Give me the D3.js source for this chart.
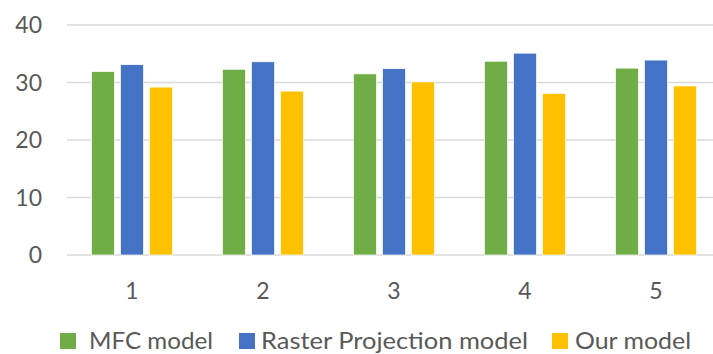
<!DOCTYPE html>
<html><head><meta charset="utf-8">
<script src="https://cdn.jsdelivr.net/npm/d3@7"></script>
<style>body{margin:0;background:#fff;overflow:hidden}</style>
</head><body>
<svg id="c" width="713" height="354"></svg>
<script>
const categories = ["1","2","3","4","5"];
const seriesNames = ["MFC model","Raster Projection model","Our model"];
const mfc = [31.9, 32.3, 31.5, 33.7, 32.5];
const raster = [33.1, 33.6, 32.4, 35.1, 33.9];
const ours = [29.2, 28.5, 30.1, 28.1, 29.4];
const yTicks = [0,10,20,30,40];
const colors = ["#70AD47","#4472C4","#FFC000"];
const seriesValues = [mfc, raster, ours];

const svg = d3.select("#c");
const font = "Lato, 'Open Sans', sans-serif";
const textColor = "#595959";
const groupW = 81;
const x0 = d3.scaleBand().domain(categories).range([66.5, 721.5]).paddingInner(0).paddingOuter(0);
const x1 = d3.scaleBand().domain(seriesNames).range([0, groupW]).paddingInner(0.207);
const y = d3.scaleLinear().domain([0,40]).range([255, 25]);

// gridlines
svg.append("g").selectAll("line").data(yTicks).join("line")
  .attr("x1", 67).attr("x2", 713)
  .attr("y1", d=>y(d)).attr("y2", d=>y(d))
  .attr("stroke", "#d9d9d9").attr("stroke-width", 1.5);

// y labels
svg.append("g").selectAll("text").data(yTicks).join("text")
  .attr("x", 42).attr("y", d=>y(d)).attr("dy","0.36em")
  .attr("text-anchor","end").attr("font-family",font).attr("font-size",23)
  .attr("fill",textColor).text(d=>d);

// bars
const groups = svg.append("g").selectAll("g").data(categories).join("g")
  .attr("transform", c => `translate(${x0(c) + (x0.bandwidth()-groupW)/2},0)`);
groups.selectAll("rect").data((c,i)=>seriesNames.map((s,j)=>({s, v:seriesValues[j][i], j})))
  .join("rect")
  .attr("x", d=>x1(d.s)).attr("width", x1.bandwidth())
  .attr("y", d=>y(d.v)).attr("height", d=>y(0)-y(d.v))
  .attr("fill", d=>colors[d.j]).attr("stroke","#fff").attr("stroke-width",0.7);

// x labels
svg.append("g").selectAll("text").data(categories).join("text")
  .attr("x", c=>x0(c)+x0.bandwidth()/2).attr("y", 299)
  .attr("text-anchor","middle").attr("font-family",font).attr("font-size",23)
  .attr("fill",textColor).text(d=>d);

// legend
const legX = [60, 239, 552];
const legLen = [124, 267, 116];
const leg = svg.append("g").selectAll("g").data(seriesNames).join("g")
  .attr("transform",(d,i)=>`translate(${legX[i]},333)`);
leg.append("rect").attr("x",0).attr("y",0).attr("width",16).attr("height",16)
  .attr("fill",(d,i)=>colors[i]);
leg.append("text").attr("x",(d,i)=>[29,22,23][i]).attr("y",16)
  .attr("textLength",(d,i)=>legLen[i]).attr("lengthAdjust","spacingAndGlyphs")
  .attr("font-family",font).attr("font-size",23).attr("fill",textColor).text(d=>d);
</script>
</body></html>
